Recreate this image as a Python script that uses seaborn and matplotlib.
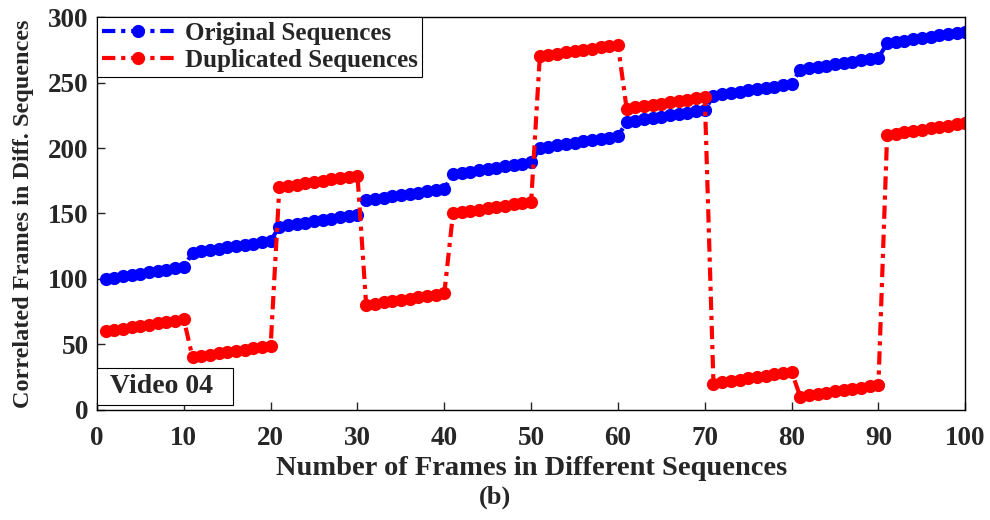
import numpy as np
import pandas as pd
import matplotlib
matplotlib.use("Agg")
import matplotlib.pyplot as plt
from matplotlib.patches import Rectangle
import seaborn as sns

# Ten sequences of ten frames each; within a sequence frame indices run consecutively
segment_len = 10
original_starts = [100, 120, 140, 160, 180, 200, 220, 240, 260, 280]
duplicated_starts = [60, 40, 170, 80, 150, 270, 230, 20, 10, 210]

frames = np.arange(1, 101)
original = np.concatenate([np.arange(s, s + segment_len) for s in original_starts])
duplicated = np.concatenate([np.arange(s, s + segment_len) for s in duplicated_starts])

df = pd.DataFrame({
    "frame": np.tile(frames, 2),
    "value": np.concatenate([original, duplicated]),
    "series": ["Original Sequences"] * 100 + ["Duplicated Sequences"] * 100,
})

sns.set_style("white")
plt.rcParams["font.family"] = ["Liberation Serif", "DejaVu Serif"]
plt.rcParams["font.weight"] = "bold"

fig = plt.figure(figsize=(9.9, 5.2), dpi=100)
ax = fig.add_axes([0.098, 0.212, 0.877, 0.755])

sns.lineplot(
    data=df, x="frame", y="value", hue="series",
    palette={"Original Sequences": "#0000ff", "Duplicated Sequences": "#ff0000"},
    marker="o", markersize=9.5, markeredgewidth=0, linewidth=3,
    ax=ax, legend=True,
)
for line in ax.get_lines():
    line.set_linestyle((0, (3.2, 1.4, 1.0, 1.4)))

ax.set_xlim(0, 100)
ax.set_ylim(0, 300)
ax.set_xticks(np.arange(0, 101, 10))
ax.set_yticks(np.arange(0, 301, 50))
ax.tick_params(direction="in", length=6, width=1, labelsize=19.5,
               top=False, right=False, bottom=True, left=True)
ax.tick_params(axis="x", pad=12)
ax.tick_params(axis="y", pad=6)
for lab in ax.get_xticklabels() + ax.get_yticklabels():
    lab.set_fontweight("bold")
for sp in ax.spines.values():
    sp.set_color("black")
    sp.set_linewidth(1)

ax.set_xlabel("Number of Frames in Different Sequences", fontsize=20.5,
              fontweight="bold", labelpad=3)
ax.set_ylabel("Correlated Frames in Diff. Sequences", fontsize=17.5,
              fontweight="bold", labelpad=10)

leg = ax.legend(loc="upper left", bbox_to_anchor=(0.0, 1.0), frameon=True,
                fancybox=False, framealpha=1, edgecolor="black",
                prop={"size": 18, "weight": "bold"}, borderpad=0.2,
                handlelength=2.9, handletextpad=0.4, labelspacing=0.15,
                borderaxespad=0.0)
leg.get_frame().set_linewidth(0.8)

# Annotation box in the lower-left corner
ax.add_patch(Rectangle((0.0, 0.013), 0.157, 0.094, transform=ax.transAxes,
                       facecolor="white", edgecolor="black", linewidth=0.8,
                       zorder=5))
ax.text(0.0155, 0.06, "Video 04", transform=ax.transAxes, fontsize=20,
        fontweight="bold", ha="left", va="center", zorder=6)

fig.text(0.5, 0.022, "(b)", ha="center", va="bottom", fontsize=19,
         fontweight="bold")

fig.savefig("out.png", dpi=100)
